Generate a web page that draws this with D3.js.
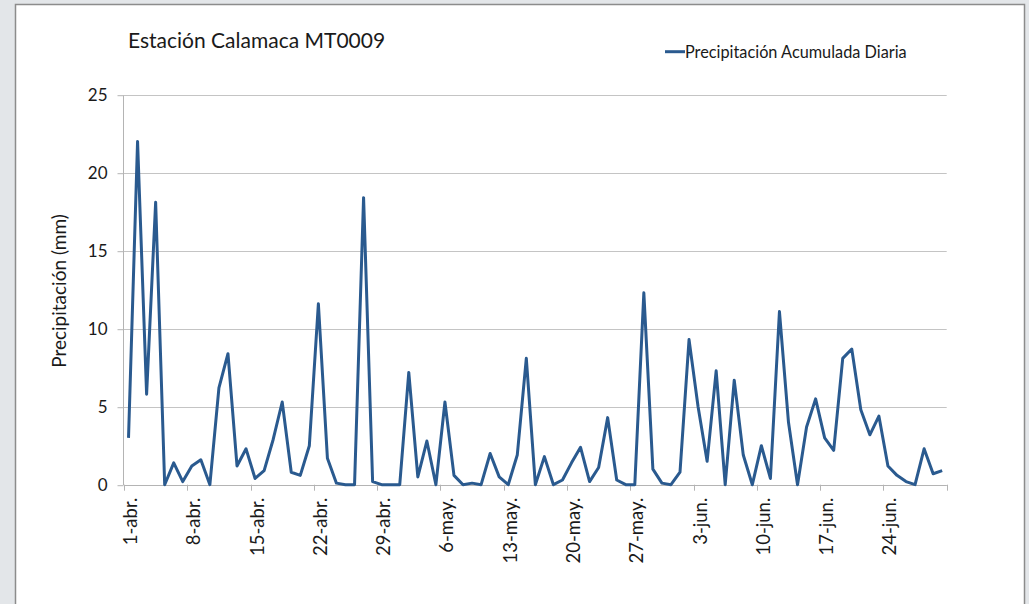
<!DOCTYPE html>
<html>
<head>
<meta charset="utf-8">
<script src="https://cdn.jsdelivr.net/npm/d3@7"></script>
<style>
  html, body { margin: 0; padding: 0; background: #e3e6e9; }
  svg { display: block; }
  text { font-family: Lato, "Noto Sans", sans-serif; fill: #1a1a1a; }
</style>
</head>
<body>
<svg id="chart" width="1029" height="604"></svg>
<script>
const title = "Estación Calamaca MT0009";
const seriesName = "Precipitación Acumulada Diaria";
const yAxisTitle = "Precipitación (mm)";
const startDate = new Date(2000, 3, 1);
const endDate = new Date(2000, 6, 1);
const categories = d3.timeDay.range(startDate, endDate);
const precipitation = [
  3.0, 22.0, 5.8, 18.1, 0.0, 1.4, 0.2, 1.2, 1.6, 0.0,
  6.2, 8.4, 1.2, 2.3, 0.4, 0.9, 2.9, 5.3, 0.8, 0.6,
  2.5, 11.6, 1.7, 0.1, 0.0, 0.0, 18.4, 0.2, 0.0, 0.0,
  0.0, 7.2, 0.5, 2.8, 0.0, 5.3, 0.6, 0.0, 0.1, 0.0,
  2.0, 0.5, 0.0, 1.9, 8.1, 0.0, 1.8, 0.0, 0.3, 1.4,
  2.4, 0.2, 1.1, 4.3, 0.3, 0.0, 0.0, 12.3, 1.0, 0.1,
  0.0, 0.8, 9.3, 5.0, 1.5, 7.3, 0.0, 6.7, 1.9, 0.0,
  2.5, 0.4, 11.1, 4.0, 0.0, 3.7, 5.5, 3.0, 2.2, 8.1,
  8.7, 4.8, 3.2, 4.4, 1.2, 0.6, 0.2, 0.0, 2.3, 0.7, 0.9
];
const yTicks = [0, 5, 10, 15, 20, 25];
const xTickLabels = ["1-abr.", "8-abr.", "15-abr.", "22-abr.", "29-abr.", "6-may.", "13-may.",
  "20-may.", "27-may.", "3-jun.", "10-jun.", "17-jun.", "24-jun."];

const svg = d3.select("#chart");

// chart frame
svg.append("rect").attr("x", 15.5).attr("y", 4.5).attr("width", 1009).attr("height", 610)
  .attr("fill", "#ffffff").attr("stroke", "#8c8c8c").attr("stroke-width", 1.5);

const pLeft = 124, pRight = 946.7, pTop = 94.7, pBottom = 484.7;
const idx = d3.range(categories.length);
const x = d3.scaleBand().domain(idx).range([pLeft, pRight]).paddingInner(0).paddingOuter(0);
const bw = x.bandwidth();
const cx = i => x(i) + bw / 2;
const y = d3.scaleLinear().domain([0, 25]).range([pBottom, pTop]);

// gridlines
svg.append("g").selectAll("line").data(yTicks).join("line")
  .attr("x1", pLeft).attr("x2", pRight)
  .attr("y1", d => Math.round(y(d)) + 0.5).attr("y2", d => Math.round(y(d)) + 0.5)
  .attr("stroke", "#c4c4c4").attr("stroke-width", 1);

// y axis
const yAxis = d3.axisLeft(y).tickValues(yTicks).tickSize(6).tickPadding(10);
const gy = svg.append("g").attr("transform", `translate(${Math.round(pLeft) - 0.5},0.5)`).call(yAxis);
gy.select(".domain").attr("stroke", "#b4b4b4").attr("d", `M0,${pTop}V${pBottom}`);
gy.selectAll(".tick line").attr("stroke", "#b4b4b4");
gy.selectAll(".tick text").style("font-family", "Lato, sans-serif").style("font-size", "17px").attr("fill", "#1a1a1a");

// x axis ticks (between categories, every 7 days, plus end)
const tickPos = idx.filter(i => i % 7 === 0).map(i => x(i)).concat([pRight]);
svg.append("g").selectAll("line").data(tickPos).join("line")
  .attr("x1", d => Math.round(d) + 0.5).attr("x2", d => Math.round(d) + 0.5)
  .attr("y1", pBottom).attr("y2", pBottom + 6)
  .attr("stroke", "#b4b4b4");
svg.append("line").attr("x1", pLeft).attr("x2", pRight)
  .attr("y1", Math.round(pBottom) + 0.5).attr("y2", Math.round(pBottom) + 0.5)
  .attr("stroke", "#b4b4b4");

const labelIdx = idx.filter(i => i % 7 === 0);
svg.append("g").selectAll("text").data(labelIdx).join("text")
  .attr("transform", d => `translate(${cx(d) + 2},${pBottom + 13}) rotate(-90)`)
  .attr("text-anchor", "end").attr("dy", "0.35em")
  .style("font-size", "18.5px")
  .text((d, k) => xTickLabels[k]);

// line
const line = d3.line().x((d, i) => cx(i)).y(d => y(d));
svg.append("path").datum(precipitation)
  .attr("d", line).attr("fill", "none")
  .attr("stroke", "#2a5a8f").attr("stroke-width", 3).attr("stroke-linejoin", "round");

// title
svg.append("text").attr("x", 128).attr("y", 48).style("font-size", "21px").text(title);

// legend
svg.append("line").attr("x1", 665).attr("x2", 685).attr("y1", 51.7).attr("y2", 51.7)
  .attr("stroke", "#2a5a8f").attr("stroke-width", 3);
svg.append("text").attr("x", 685).attr("y", 57.5).style("font-size", "16.3px").text(seriesName);

// y axis title
svg.append("text").attr("transform", "translate(65.5,291) rotate(-90)")
  .attr("text-anchor", "middle").style("font-size", "19px").text(yAxisTitle);
</script>
</body>
</html>
